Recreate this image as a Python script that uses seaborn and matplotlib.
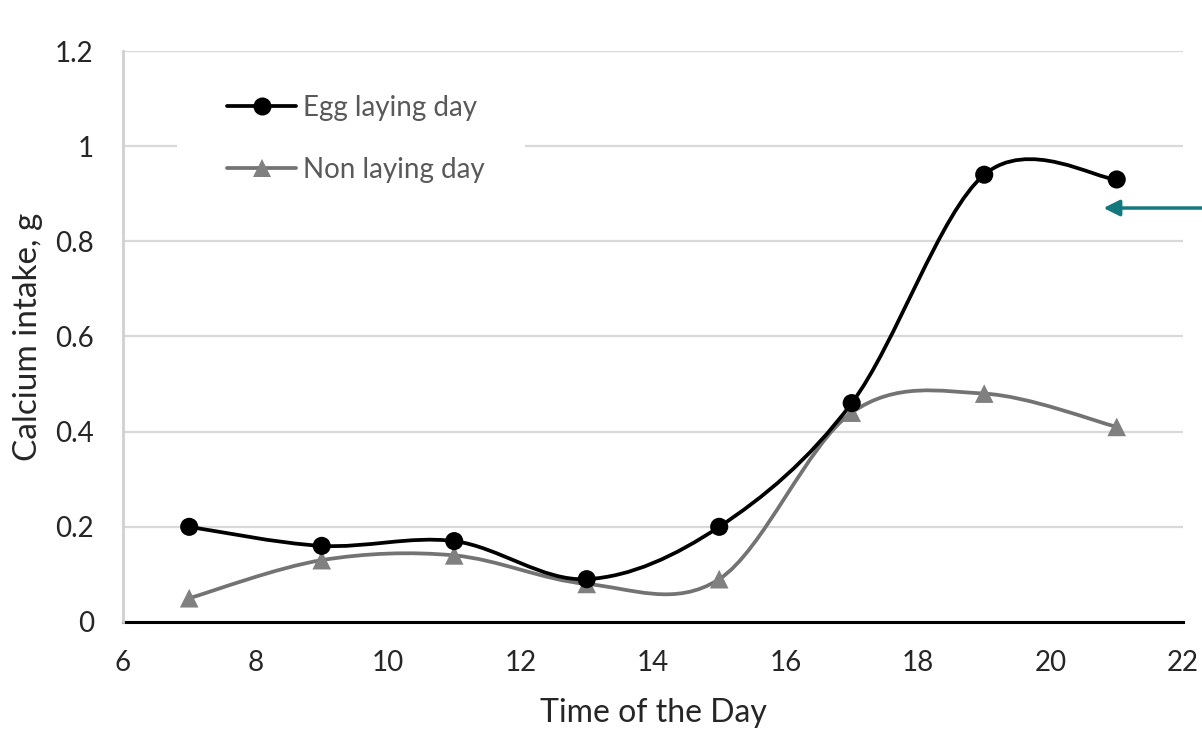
import numpy as np
import pandas as pd
import matplotlib
matplotlib.use("Agg")
import matplotlib.pyplot as plt
from matplotlib.path import Path
from matplotlib.patches import PathPatch, Rectangle
from matplotlib.lines import Line2D
import seaborn as sns

# Calcium intake over the day (g)
hours = [7, 9, 11, 13, 15, 17, 19, 21]
egg_laying = [0.20, 0.16, 0.17, 0.09, 0.20, 0.46, 0.94, 0.93]
non_laying = [0.05, 0.13, 0.14, 0.08, 0.09, 0.44, 0.48, 0.41]
series_names = ["Egg laying day", "Non laying day"]

x_ticks = [6, 8, 10, 12, 14, 16, 18, 20, 22]
y_ticks = [0, 0.2, 0.4, 0.6, 0.8, 1.0, 1.2]
y_tick_labels = ["0", "0.2", "0.4", "0.6", "0.8", "1", "1.2"]

# pointer arrow target
arrow_tip = (20.8, 0.87)

EGG_COLOR = "#000000"
NON_LINE = "#737373"
NON_MARK = "#808080"
ARROW_COLOR = "#13797f"
TEXT_COLOR = "#262626"

sns.set_theme(style="white")
plt.rcParams["font.family"] = ["Lato", "DejaVu Sans"]


def smooth_path(x, y):
    """Cubic Bezier path through the points (Catmull-Rom style smoothing)."""
    pts = np.column_stack([x, y]).astype(float)
    n = len(pts)
    verts = [pts[0]]
    codes = [Path.MOVETO]
    for i in range(n - 1):
        p0 = pts[max(i - 1, 0)]
        p1 = pts[i]
        p2 = pts[i + 1]
        p3 = pts[min(i + 2, n - 1)]
        c1 = p1 + (p2 - p0) / 6.0
        c2 = p2 - (p3 - p1) / 6.0
        verts += [c1, c2, p2]
        codes += [Path.CURVE4] * 3
    return Path(verts, codes)


fig = plt.figure(figsize=(12.02, 7.29), dpi=100)
ax = fig.add_axes([0.1023, 0.14678, 0.88186, 0.78326])

df = pd.DataFrame({
    "hour": hours * 2,
    "intake": egg_laying + non_laying,
    "series": [series_names[0]] * len(hours) + [series_names[1]] * len(hours),
})

# smoothed lines
ax.add_patch(PathPatch(smooth_path(hours, non_laying), facecolor="none",
                       edgecolor=NON_LINE, lw=2.7, zorder=3, capstyle="round"))
ax.add_patch(PathPatch(smooth_path(hours, egg_laying), facecolor="none",
                       edgecolor=EGG_COLOR, lw=2.7, zorder=4, capstyle="round"))

# markers
sns.scatterplot(data=df[df["series"] == series_names[1]], x="hour", y="intake",
                marker="^", s=180, color=NON_MARK, edgecolor="none",
                ax=ax, zorder=5, legend=False)
sns.scatterplot(data=df[df["series"] == series_names[0]], x="hour", y="intake",
                marker="o", s=170, color=EGG_COLOR, edgecolor="none",
                ax=ax, zorder=6, legend=False)

ax.set_xlim(6, 22)
ax.set_ylim(0, 1.2)
ax.set_xticks(x_ticks)
ax.set_xticklabels([str(v) for v in x_ticks])
ax.set_yticks(y_ticks)
ax.set_yticklabels(y_tick_labels)
ax.tick_params(axis="both", length=0, labelsize=20, colors=TEXT_COLOR)
ax.tick_params(axis="y", pad=21)
ax.tick_params(axis="x", pad=20)

ax.grid(axis="y", color="#d9d9d9", lw=1.6)
ax.grid(axis="x", visible=False)
ax.set_axisbelow(True)

for side in ["top", "right"]:
    ax.spines[side].set_visible(False)
ax.spines["left"].set_color("#d0d0d0")
ax.spines["left"].set_linewidth(2.0)
ax.spines["bottom"].set_color("#000000")
ax.spines["bottom"].set_linewidth(2.2)
ax.spines["bottom"].set_zorder(2)

ax.set_xlabel("Time of the Day", fontsize=23, color=TEXT_COLOR, labelpad=16)
ax.set_ylabel("Calcium intake, g", fontsize=24, color=TEXT_COLOR, labelpad=9)

# white legend panel covering the gridlines behind the legend
ax.add_patch(Rectangle((0.051, 0.73), 0.328, 0.228, transform=ax.transAxes,
                       facecolor="white", edgecolor="none", zorder=1.5))

handles = [
    Line2D([], [], color=EGG_COLOR, lw=2.7, marker="o", markersize=13,
           markeredgewidth=0),
    Line2D([], [], color=NON_LINE, lw=2.7, marker="^", markersize=13,
           markerfacecolor=NON_MARK, markeredgewidth=0),
]
leg = ax.legend(handles, series_names, loc="center",
                bbox_to_anchor=(356 / 1202, 1 - 139 / 729),
                bbox_transform=fig.transFigure,
                fontsize=20, labelcolor="#595959", frameon=False,
                handlelength=2.5, handletextpad=0.25, labelspacing=1.3,
                borderpad=0)
leg.set_zorder(2.5)

ax.annotate("", xy=arrow_tip, xycoords="data",
            xytext=(1.0, arrow_tip[1]), textcoords=("figure fraction", "data"),
            arrowprops=dict(arrowstyle="-|>", color=ARROW_COLOR, lw=2.5,
                            mutation_scale=24, shrinkA=0, shrinkB=0),
            annotation_clip=False)

fig.savefig("out.png", dpi=100)
